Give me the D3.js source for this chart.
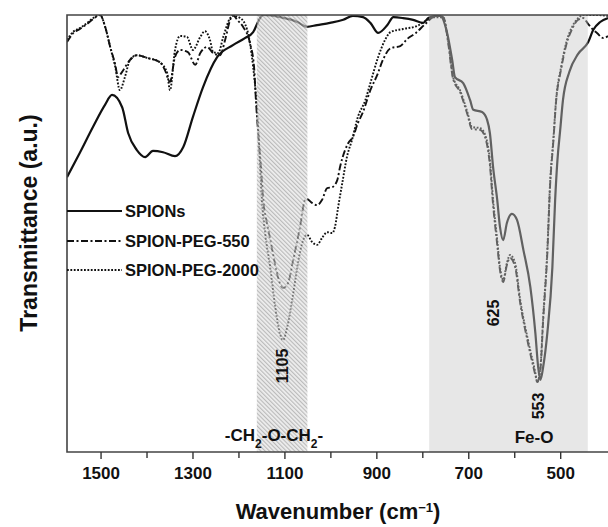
<!DOCTYPE html>
<html>
<head>
<meta charset="utf-8">
<script src="https://cdn.jsdelivr.net/npm/d3@7"></script>
<style>
  body { margin: 0; background: #fff; }
  text { font-family: Arial, "Liberation Sans", sans-serif; font-weight: bold; fill: #111; }
</style>
</head>
<body>
<div id="chart"></div>
<script>
// FTIR spectra, [wavenumber (cm-1), transmittance (a.u.)]
var spions = [[1573,62.9],[1545,68.5],[1516,74.5],[1490,79.5],[1475,81.7],[1453,78.9],[1440,73.0],[1421,69.1],[1403,67.5],[1386,68.9],[1364,68.6],[1338,67.7],[1320,69.8],[1299,76.7],[1277,83.5],[1246,90.4],[1212,93.1],[1186,94.7],[1168,96.1],[1153,99.3],[1146,100],[1109,99.5],[1072,98.4],[1051,97.3],[1029,97.7],[1001,98.2],[972,98.9],[951,99.8],[929,99.5],[913,98.2],[896,95.9],[876,97.7],[863,99.5],[842,99.3],[820,98.9],[798,98.2],[787,99.3],[768,99.8],[761,99.8],[746,95.9],[735,89.7],[729,85.8],[711,84.4],[696,80.5],[689,78.3],[670,77.8],[659,76.0],[653,73.0],[646,65.2],[637,57.7],[631,51.5],[624,48.5],[616,52.4],[605,54.5],[594,53.1],[580,46.2],[565,37.8],[554,27.2],[548,19.5],[543,16.5],[537,19.5],[528,27.2],[517,42.3],[511,57.7],[506,66.8],[500,73.7],[494,80.5],[480,87.0],[461,91.1],[439,93.8],[428,96.6],[413,98.4],[396,99.3]];

var peg550 = [[1573,93.8],[1560,95.8],[1545,96.8],[1529,98.0],[1516,99.1],[1501,100],[1490,97.3],[1479,92.7],[1468,88.6],[1462,85.8],[1453,87.0],[1436,89.7],[1421,90.8],[1399,90.2],[1371,89.2],[1360,87.4],[1349,84.7],[1338,90.4],[1327,92.0],[1310,91.5],[1294,88.6],[1283,91.3],[1268,92.7],[1255,91.3],[1240,90.8],[1229,94.3],[1218,98.9],[1212,100],[1203,98.9],[1190,97.3],[1175,93.6],[1166,88.1],[1162,80.5],[1157,73.0],[1151,65.2],[1146,57.7],[1136,51.5],[1125,45.5],[1114,40.0],[1103,37.5],[1092,38.7],[1081,43.9],[1066,51.5],[1055,57.7],[1051,57.9],[1040,57.0],[1029,56.5],[1018,57.7],[1007,60.4],[996,60.6],[985,62.2],[979,65.2],[968,69.1],[961,70.7],[951,72.1],[940,75.3],[929,77.8],[913,82.8],[898,86.3],[885,89.9],[869,92.4],[848,92.9],[833,94.5],[814,95.9],[794,97.9],[776,99.5],[761,99.8],[753,99.3],[744,93.8],[733,85.4],[718,82.4],[702,77.3],[692,73.9],[674,73.7],[663,71.9],[653,65.7],[646,56.5],[637,47.4],[631,41.6],[624,38.9],[616,42.8],[609,44.4],[598,42.3],[587,34.1],[570,24.9],[554,17.6],[550,16.0],[543,19.0],[537,30.2],[528,45.5],[522,60.9],[515,70.9],[509,80.1],[498,87.6],[487,93.1],[474,96.8],[461,98.9],[450,99.3],[439,97.9],[428,96.6],[420,95.9],[406,94.7],[396,95.2]];

var peg2000 = [[1573,94.3],[1560,96.1],[1545,97.0],[1529,98.2],[1516,99.3],[1501,100],[1490,97.3],[1479,92.7],[1468,88.1],[1458,82.8],[1447,85.8],[1436,89.7],[1421,90.8],[1399,90.2],[1371,89.2],[1355,86.7],[1349,82.8],[1338,92.0],[1327,95.2],[1312,95.0],[1299,92.0],[1283,95.0],[1273,96.3],[1262,94.3],[1255,91.5],[1244,91.3],[1233,95.0],[1218,99.3],[1212,99.8],[1196,99.3],[1181,96.6],[1175,93.6],[1168,88.1],[1162,81.7],[1157,73.7],[1153,65.7],[1149,57.7],[1142,50.1],[1131,42.3],[1120,33.2],[1109,26.8],[1103,25.6],[1094,28.6],[1083,34.8],[1072,42.3],[1059,48.5],[1051,49.7],[1040,48.1],[1029,47.4],[1018,49.0],[1007,50.3],[996,50.1],[990,51.5],[983,56.1],[974,61.6],[964,67.5],[953,71.4],[940,76.7],[924,80.5],[913,84.4],[896,90.4],[881,94.3],[869,96.1],[842,96.8],[811,97.5],[789,98.9],[776,99.5],[761,99.5],[755,99.5],[744,94.3],[733,85.8],[718,82.8],[702,77.8],[692,74.4],[674,74.1],[663,72.5],[653,66.8],[646,57.7],[637,48.5],[631,42.3],[624,39.4],[616,43.2],[609,45.1],[598,43.2],[587,34.8],[570,25.6],[554,18.1],[550,16.0],[543,19.5],[537,30.9],[528,46.2],[522,61.6],[515,71.4],[509,80.5],[498,88.1],[487,93.6],[474,97.3],[461,99.3],[450,100],[424,100],[396,99.8]];

var seriesNames = ["SPIONs", "SPION-PEG-550", "SPION-PEG-2000"];
var majorTicks = [1500, 1300, 1100, 900, 700, 500];
var minorTicks = [1400, 1200, 1000, 800, 600];
var etherBand = [1160, 1050];   // -CH2-O-CH2- region
var feoBand = [785, 440];       // Fe-O region
var peakLabels = ["1105", "625", "553"];

// set the dimensions
var W = 608, H = 527;
var plot = { left: 67, right: 608, top: 15, bottom: 452 };

var svg = d3.select("#chart")
    .append("svg")
    .attr("width", W)
    .attr("height", H);

var x = d3.scaleLinear().domain([1573, 396]).range([plot.left, plot.right]);
var y = d3.scaleLinear().domain([0, 100]).range([plot.bottom, plot.top]);

svg.append("clipPath").attr("id", "clip")
    .append("rect")
    .attr("x", plot.left).attr("y", plot.top)
    .attr("width", plot.right - plot.left).attr("height", plot.bottom - plot.top);

// hatch pattern
var defs = svg.append("defs");
var pat = defs.append("pattern")
    .attr("id", "hatch")
    .attr("patternUnits", "userSpaceOnUse")
    .attr("width", 3).attr("height", 3)
    .attr("patternTransform", "rotate(-45)");
pat.append("rect").attr("width", 3).attr("height", 3).attr("fill", "#e4e4e4");
pat.append("line").attr("x1", 0.6).attr("y1", 0).attr("x2", 0.6).attr("y2", 3)
    .attr("stroke", "#8c8c8c").attr("stroke-width", 1.1);

// lines
var line = d3.line()
    .x(function (d) { return x(d[0]); })
    .y(function (d) { return y(d[1]); })
    .curve(d3.curveMonotoneX);

var styles = [
    { data: spions, dash: null, width: 2.2 },
    { data: peg550, dash: "7,2.5,2,2.5", width: 1.9 },
    { data: peg2000, dash: "1.8,1.6", width: 1.9 }
];

var lines = svg.append("g").attr("clip-path", "url(#clip)");
styles.forEach(function (s) {
    lines.append("path")
        .datum(s.data)
        .attr("d", line)
        .attr("fill", "none")
        .attr("stroke", "#111")
        .attr("stroke-width", s.width)
        .attr("stroke-dasharray", s.dash);
});

// shaded bands drawn over the curves
svg.append("rect")
    .attr("x", x(etherBand[0]))
    .attr("y", plot.top)
    .attr("width", x(etherBand[1]) - x(etherBand[0]))
    .attr("height", plot.bottom - plot.top)
    .attr("fill", "url(#hatch)")
    .attr("opacity", 0.62);

svg.append("rect")
    .attr("x", x(feoBand[0]))
    .attr("y", plot.top)
    .attr("width", x(feoBand[1]) - x(feoBand[0]))
    .attr("height", plot.bottom - plot.top)
    .attr("fill", "#c8c8c8")
    .attr("opacity", 0.44);

// frame
svg.append("path")
    .attr("d", "M" + plot.right + "," + plot.top + "H" + plot.left + "V" + plot.bottom + "H" + plot.right)
    .attr("fill", "none")
    .attr("stroke", "#444")
    .attr("stroke-width", 1.6);

// X axis
var xAxis = svg.append("g")
    .attr("transform", "translate(0," + plot.bottom + ")")
    .call(d3.axisBottom(x).tickValues(majorTicks).tickSize(7).tickPadding(8).tickFormat(d3.format("d")));
xAxis.select(".domain").remove();
xAxis.selectAll("line").attr("stroke", "#333").attr("stroke-width", 1.4);
xAxis.selectAll("text")
    .style("font-family", "Arial, 'Liberation Sans', sans-serif")
    .style("font-weight", "bold")
    .style("font-size", "17px")
    .attr("fill", "#111");

var xMinor = svg.append("g")
    .attr("transform", "translate(0," + plot.bottom + ")")
    .call(d3.axisBottom(x).tickValues(minorTicks).tickSize(6).tickFormat(""));
xMinor.select(".domain").remove();
xMinor.selectAll("line").attr("stroke", "#333").attr("stroke-width", 1.4);

// axis titles
var xt = svg.append("text")
    .attr("x", 338)
    .attr("y", 519)
    .attr("text-anchor", "middle")
    .style("font-size", "22px");
xt.append("tspan").text("Wavenumber (cm");
xt.append("tspan").attr("baseline-shift", "super").style("font-size", "13px").text("\u22121");
xt.append("tspan").text(")");

svg.append("text")
    .attr("transform", "translate(37,223) rotate(-90)")
    .attr("text-anchor", "middle")
    .style("font-size", "23px")
    .text("Transmittance (a.u.)");

// legend
var legY = [211, 241, 270];
styles.forEach(function (s, i) {
    svg.append("line")
        .attr("x1", plot.left).attr("x2", 122)
        .attr("y1", legY[i]).attr("y2", legY[i])
        .attr("stroke", "#111")
        .attr("stroke-width", s.width)
        .attr("stroke-dasharray", s.dash);
    svg.append("text")
        .attr("x", 125)
        .attr("y", legY[i])
        .attr("dy", "0.35em")
        .style("font-size", "16.5px")
        .text(seriesNames[i]);
});

// band annotations
var ch = svg.append("text")
    .attr("x", 274)
    .attr("y", 441)
    .attr("text-anchor", "middle")
    .style("font-size", "17px");
ch.append("tspan").text("-CH");
ch.append("tspan").attr("baseline-shift", "sub").style("font-size", "12px").text("2");
ch.append("tspan").text("-O-CH");
ch.append("tspan").attr("baseline-shift", "sub").style("font-size", "12px").text("2");
ch.append("tspan").text("-");

svg.append("text")
    .attr("x", 534)
    .attr("y", 443)
    .attr("text-anchor", "middle")
    .style("font-size", "17px")
    .text("Fe-O");

// peak labels
var peakPos = [[282, 366], [493, 313], [538, 406]];
peakLabels.forEach(function (t, i) {
    svg.append("text")
        .attr("transform", "translate(" + (peakPos[i][0] + 6) + "," + peakPos[i][1] + ") rotate(-90)")
        .attr("text-anchor", "middle")
        .style("font-size", "16px")
        .text(t);
});
</script>
</body>
</html>
